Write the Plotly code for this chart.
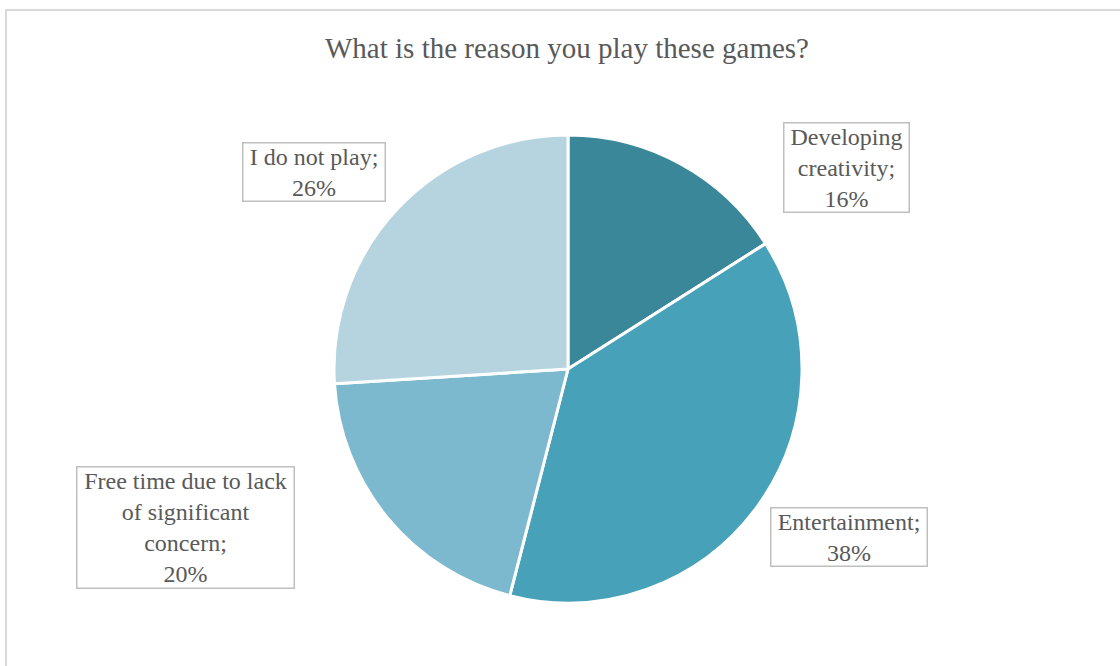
import plotly.graph_objects as go

# Survey answers and their shares (percent)
categories = [
    "Developing creativity",
    "Entertainment",
    "Free time due to lack of significant concern",
    "I do not play",
]
shares = [16, 38, 20, 26]
label_lines = [
    "Developing<br>creativity;",
    "Entertainment;",
    "Free time due to lack<br>of significant<br>concern;",
    "I do not play;",
]
colors = ["#3A8799", "#47A1B9", "#7CB9CF", "#B6D4DF"]

W, H = 1120, 666
cx, cy, r = 568, 369, 234  # pie centre and radius in px

fig = go.Figure(
    go.Pie(
        labels=categories,
        values=shares,
        sort=False,
        direction="clockwise",
        rotation=0,
        marker=dict(colors=colors, line=dict(color="white", width=3)),
        textinfo="none",
        hoverinfo="skip",
        showlegend=False,
        domain=dict(
            x=[(cx - r) / W, (cx + r) / W],
            y=[(H - cy - r) / H, (H - cy + r) / H],
        ),
    )
)

# Boxed data labels: centre (px from top-left) and box width (px)
label_boxes = [
    (846, 167.5, 128),
    (848.5, 536.5, 159),
    (185, 527, 220),
    (314, 171.5, 145),
]
font = "Liberation Serif, Times New Roman, serif"
for text, share, (bx, by, bw) in zip(label_lines, shares, label_boxes):
    fig.add_annotation(
        x=bx / W, y=1 - by / H, xref="paper", yref="paper",
        text=f"{text}<br>{share}%", showarrow=False,
        font=dict(family=font, size=24, color="#595959"),
        align="center", width=bw - 4, borderpad=0,
        bordercolor="#BFBFBF", borderwidth=1.5, bgcolor="white",
        xanchor="center", yanchor="middle",
    )

# Chart title
fig.add_annotation(
    x=566.5 / W, y=1 - 48 / H, xref="paper", yref="paper",
    text="What is the reason you play these games?", showarrow=False,
    font=dict(family=font, size=29, color="#595959"),
    xanchor="center", yanchor="middle",
)

# Chart area outline
fig.add_shape(
    type="rect", xref="paper", yref="paper",
    x0=6 / W, x1=1.01, y0=-0.01, y1=1 - 10 / H,
    line=dict(color="#D9D9D9", width=2), fillcolor="rgba(0,0,0,0)",
)

fig.update_layout(
    width=W, height=H,
    margin=dict(l=0, r=0, t=0, b=0),
    paper_bgcolor="white", plot_bgcolor="white",
)

fig.write_html("out.html")
